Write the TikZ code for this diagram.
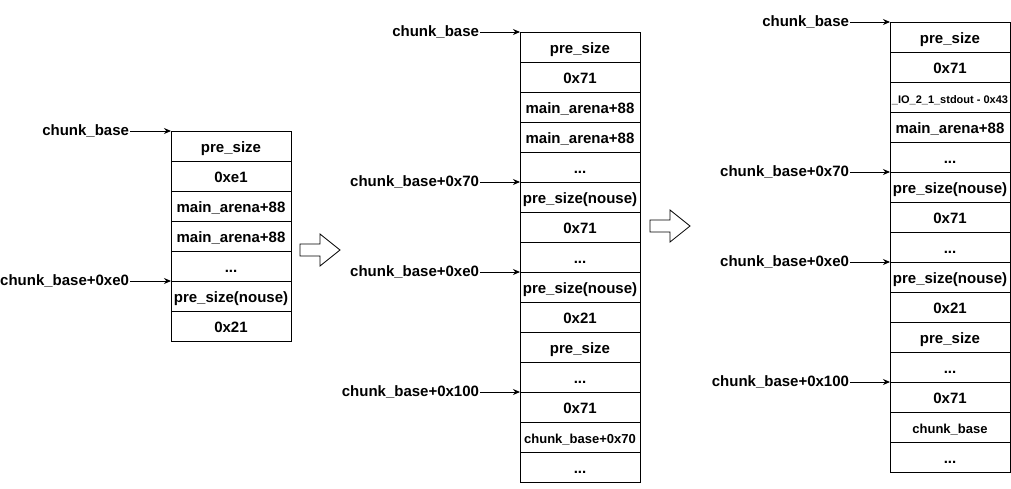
\documentclass[tikz,border=0pt]{standalone}
\usepackage{fontspec}
\setmainfont{Liberation Sans}
\usetikzlibrary{arrows.meta}
\newcommand{\mydots}{...}
\tikzset{
 cell/.style={draw, line width=1pt, minimum width=120pt, minimum height=30pt, inner sep=0pt, outer sep=0pt, text height=13.5pt, text depth=0pt, font=\bfseries\fontsize{15}{17}\selectfont},
 ptr/.style={font=\bfseries\fontsize{15}{17}\selectfont, anchor=east, inner sep=1pt, outer sep=0pt},
 link/.style={-{Stealth[length=7pt,width=6pt]}, line width=0.9pt},
 bigarrow/.style={draw, line width=0.8pt, fill=white}
}
\begin{document}
\begin{tikzpicture}[x=1pt,y=-1pt]
\useasboundingbox (0,0) rectangle (1011,488);
% stack 1
\foreach \t [count=\i] in {pre\_size, 0xe1, main\_arena+88, main\_arena+88, \mydots, pre\_size(nouse), 0x21}
  \node[cell] (a\i) at (231, 116+30*\i) {\t};
% stack 2
\foreach \t [count=\i] in {pre\_size, 0x71, main\_arena+88, main\_arena+88, \mydots, pre\_size(nouse), 0x71, \mydots, pre\_size(nouse), 0x21, pre\_size, \mydots, 0x71, {\fontsize{13}{15}\selectfont chunk\_base+0x70}, \mydots}
  \node[cell] (b\i) at (580, 17+30*\i) {\t};
% stack 3
\foreach \t [count=\i] in {pre\_size, 0x71, {\fontsize{11}{13}\selectfont \_IO\_2\_1\_stdout - 0x43}, main\_arena+88, \mydots, pre\_size(nouse), 0x71, \mydots, pre\_size(nouse), 0x21, pre\_size, \mydots, 0x71, {\fontsize{13}{15}\selectfont chunk\_base}, \mydots}
  \node[cell] (c\i) at (950, 7+30*\i) {\t};

% pointers stack 1
\node[ptr] (pa1) at (130,131) {chunk\_base};
\node[ptr] (pa2) at (130,281) {chunk\_base+0xe0};
\draw[link] (pa1.east) -- (a1.north west);
\draw[link] (pa2.east) -- (a5.south west);
% pointers stack 2
\node[ptr] (pb1) at (480,32) {chunk\_base};
\node[ptr] (pb2) at (480,182) {chunk\_base+0x70};
\node[ptr] (pb3) at (480,272) {chunk\_base+0xe0};
\node[ptr] (pb4) at (480,392) {chunk\_base+0x100};
\draw[link] (pb1.east) -- (b1.north west);
\draw[link] (pb2.east) -- (b5.south west);
\draw[link] (pb3.east) -- (b8.south west);
\draw[link] (pb4.east) -- (b12.south west);
% pointers stack 3
\node[ptr] (pc1) at (850,22) {chunk\_base};
\node[ptr] (pc2) at (850,172) {chunk\_base+0x70};
\node[ptr] (pc3) at (850,262) {chunk\_base+0xe0};
\node[ptr] (pc4) at (850,382) {chunk\_base+0x100};
\draw[link] (pc1.east) -- (c1.north west);
\draw[link] (pc2.east) -- (c5.south west);
\draw[link] (pc3.east) -- (c8.south west);
\draw[link] (pc4.east) -- (c12.south west);

% block arrows
\draw[bigarrow] (300,244) -- (320,244) -- (320,234) -- (340,250) -- (320,266) -- (320,256) -- (300,256) -- cycle;
\draw[bigarrow] (650,220) -- (670,220) -- (670,210) -- (690,226) -- (670,242) -- (670,232) -- (650,232) -- cycle;
\end{tikzpicture}
\end{document}
